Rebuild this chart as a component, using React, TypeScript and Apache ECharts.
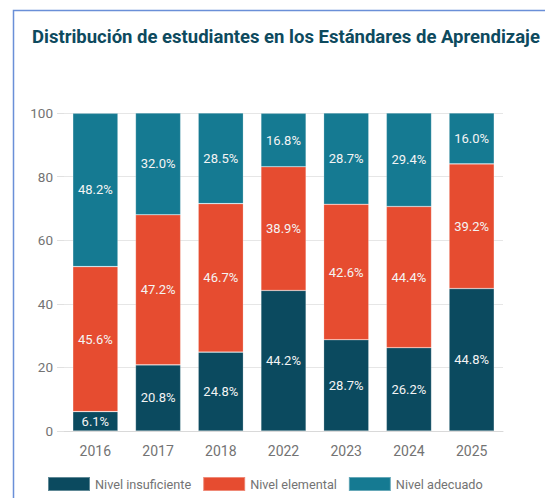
import React, { useEffect, useRef } from "react";
import * as echarts from "echarts";

const years = ["2016", "2017", "2018", "2022", "2023", "2024", "2025"];
const insuficiente = [6.1, 20.8, 24.8, 44.2, 28.7, 26.2, 44.8];
const elemental = [45.6, 47.2, 46.7, 38.9, 42.6, 44.4, 39.2];
const adecuado = [48.2, 32.0, 28.5, 16.8, 28.7, 29.4, 16.0];
const seriesNames = ["Nivel insuficiente", "Nivel elemental", "Nivel adecuado"];
const yTicks = [0, 20, 40, 60, 80, 100];

const colors = ["#0b4a5f", "#e64c30", "#157a92"];

export default function App() {
  const ref = useRef<HTMLDivElement>(null);
  useEffect(() => {
    document.body.style.margin = "0";
    const chart = echarts.init(ref.current!, null, { renderer: "svg" });
    const mk = (name: string, data: number[], i: number) => ({
      name,
      type: "bar",
      stack: "total",
      data,
      barWidth: "72%",
      itemStyle: { color: colors[i], borderColor: "rgba(255,255,255,0.35)", borderWidth: 0.6 },
      label: {
        show: true,
        position: "inside",
        color: "#f4f4f4",
        fontFamily: "Roboto",
        fontSize: 13,
        formatter: (p: any) => Number(p.value).toFixed(1) + "%",
      },
    });
    chart.setOption({
      animation: false,
      color: colors,
      textStyle: { fontFamily: "Roboto" },
      title: {
        text: "Distribución de estudiantes en los Estándares de Aprendizaje",
        left: 27,
        top: 22,
        textStyle: { fontFamily: "Roboto", fontWeight: "bold", fontSize: 18.5, color: "#0d4a5e" },
      },
      graphic: [
        {
          type: "rect",
          shape: { x: 13.5, y: 10.5, width: 700, height: 700 },
          style: { fill: "none", stroke: "#6a8fd8", lineWidth: 1.5 },
          silent: true,
        },
      ],
      legend: {
        data: seriesNames,
        left: 42,
        top: 471,
        itemWidth: 42,
        itemHeight: 14,
        itemGap: 11,
        textStyle: { color: "#737373", fontSize: 12.7, fontFamily: "Roboto" },
        icon: "rect",
      },
      grid: { left: 64, right: 42, top: 113, bottom: 67, containLabel: false },
      xAxis: {
        type: "category",
        data: years,
        axisLine: { show: true, lineStyle: { color: "#d9d9d9" } },
        axisTick: { show: false },
        axisLabel: { color: "#737373", fontSize: 14, margin: 13 },
      },
      yAxis: {
        type: "value",
        min: 0,
        max: 100,
        interval: 20,
        axisLine: { show: false },
        axisTick: { show: true, length: 7, lineStyle: { color: "#e0e0e0" } },
        splitLine: { lineStyle: { color: "#e6e6e6" } },
        axisLabel: {
          color: "#737373",
          fontSize: 13.5,
          margin: 11,
          formatter: (v: number) => (yTicks.includes(v) ? String(v) : ""),
        },
      },
      series: [mk(seriesNames[0], insuficiente, 0), mk(seriesNames[1], elemental, 1), mk(seriesNames[2], adecuado, 2)],
    });
    return () => chart.dispose();
  }, []);
  return <div ref={ref} style={{ width: 545, height: 498 }} />;
}
